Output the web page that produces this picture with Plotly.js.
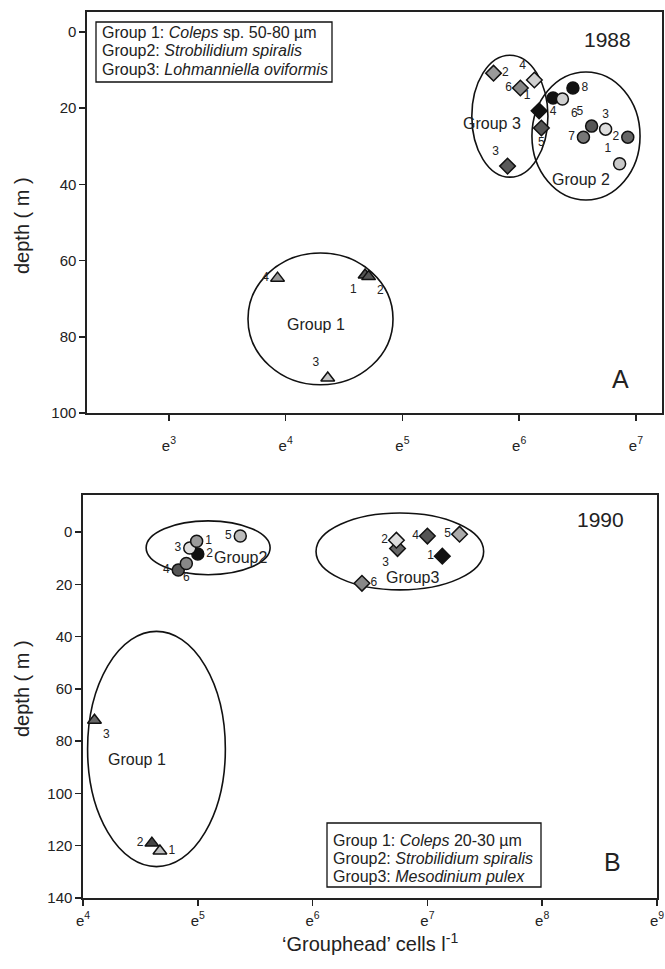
<!DOCTYPE html>
<html><head><meta charset="utf-8">
<script src="https://cdn.plot.ly/plotly-3.0.1.min.js"></script>
<style>html,body{margin:0;padding:0;background:#fff}#chart{width:665px;height:969px}</style>
</head><body><div id="chart"></div>
<script>
// ---------- DATA (x = natural log of cells per litre, y = depth in m) ----------
// 1988 (panel A)
const topTriId    = ['4', '1', '2', '3'];
const topTriLn    = [3.93, 4.68, 4.71, 4.36];
const topTriDepth = [64.6, 63.8, 64.2, 90.8];

const topDiaId    = ['2', '4', '6', '1', '5', '3'];
const topDiaLn    = [5.78, 6.13, 6.01, 6.17, 6.19, 5.90];
const topDiaDepth = [10.8, 12.6, 14.7, 20.7, 25.2, 35.2];

const topCirId    = ['4', '6', '8', '5', '3', '7', '2', '1'];
const topCirLn    = [6.29, 6.37, 6.46, 6.62, 6.74, 6.55, 6.93, 6.86];
const topCirDepth = [17.3, 17.6, 14.7, 24.7, 25.5, 27.6, 27.6, 34.6];

// 1990 (panel B)
const botTriId    = ['3', '2', '1'];
const botTriLn    = [4.10, 4.60, 4.67];
const botTriDepth = [72, 119, 122];

const botCirId    = ['4', '6', '2', '3', '1', '5'];
const botCirLn    = [4.83, 4.90, 5.00, 4.93, 4.99, 5.37];
const botCirDepth = [14.5, 12.0, 8.4, 6.1, 3.5, 1.5];

const botDiaId    = ['6', '3', '2', '4', '5', '1'];
const botDiaLn    = [6.43, 6.74, 6.73, 7.00, 7.28, 7.13];
const botDiaDepth = [19.6, 6.3, 3.1, 1.5, 0.8, 9.2];

// group ellipses: centre and half-extent (ln units, depth m)
const topEllCx   = [4.298, 5.92, 6.572];
const topEllRx   = [0.621, 0.326, 0.463];
const topEllCy   = [75.3, 22.1, 27.3];
const topEllRy   = [17.3, 16.0, 16.8];

const botEllCx   = [4.64, 5.09, 6.76];
const botEllRx   = [0.60, 0.54, 0.73];
const botEllCy   = [83.0, 6.0, 7.4];
const botEllRy   = [45.0, 10.3, 14.7];

// group names and where they are written
const topGroupName  = ['Group 1', 'Group 3', 'Group 2'];
const topGroupLn    = [4.26, 5.77, 6.53];
const topGroupDepth = [76.9, 23.9, 38.8];
const botGroupName  = ['Group 1', 'Group2', 'Group3'];
const botGroupLn    = [4.47, 5.37, 6.87];
const botGroupDepth = [87.0, 9.6, 17.3];

const topLegend = ['Group 1: <i>Coleps</i> sp. 50-80 \u00b5m', 'Group2: <i>Strobilidium spiralis</i>', 'Group3: <i>Lohmanniella oviformis</i>'];
const botLegend = ['Group 1: <i>Coleps</i> 20-30 \u00b5m', 'Group2: <i>Strobilidium spiralis</i>', 'Group3: <i>Mesodinium pulex</i>'];

const topXTicks = [3, 4, 5, 6, 7];
const botXTicks = [4, 5, 6, 7, 8, 9];
const topYTicks = [0, 20, 40, 60, 80, 100];
const botYTicks = [0, 20, 40, 60, 80, 100, 120, 140];

// ---------- STYLE ----------
const topTriColor = ['#9a9a9a', '#555555', '#555555', '#c4c4c4'];
const topTriPos   = ['middle left', 'bottom left', 'bottom right', 'top left'];
const topDiaColor = ['#9a9a9a', '#d0d0d0', '#888888', '#111111', '#555555', '#5a5a5a'];
const topDiaPos   = ['middle right', 'top left', 'middle left', 'top left', 'bottom center', 'top left'];
const topCirColor = ['#111111', '#cfcfcf', '#111111', '#555555', '#dddddd', '#777777', '#666666', '#c8c8c8'];
const topCirPos   = ['bottom center', 'bottom right', 'middle right', 'top left', 'top center', 'middle left', 'middle left', 'top left'];

const botTriColor = ['#666666', '#444444', '#bdbdbd'];
const botTriPos   = ['bottom right', 'middle left', 'middle right'];
const botCirColor = ['#555555', '#888888', '#111111', '#dddddd', '#9a9a9a', '#bbbbbb'];
const botCirPos   = ['middle left', 'bottom center', 'middle right', 'middle left', 'middle right', 'middle left'];
const botDiaColor = ['#888888', '#666666', '#dddddd', '#555555', '#aaaaaa', '#111111'];
const botDiaPos   = ['middle right', 'bottom left', 'middle left', 'middle left', 'middle left', 'middle left'];

const FONT = 'Liberation Sans, Arial, Helvetica, sans-serif';
const INK = '#222';
const W = 665, H = 969;
const px = v => v / W, py = v => 1 - v / H;

function pts(xa, ya, ids, ln, dep, sym, col, pos) {
  return {
    type: 'scatter', mode: 'markers+text', xaxis: xa, yaxis: ya,
    x: ln, y: dep, text: ids, textposition: pos,
    textfont: {family: FONT, size: 12, color: '#222222'},
    marker: {symbol: sym, size: 12, color: col, line: {color: '#111', width: 1.5}},
    hoverinfo: 'skip', showlegend: false, cliponaxis: false
  };
}

const data = [
  pts('x', 'y', topTriId, topTriLn, topTriDepth, 'triangle-up', topTriColor, topTriPos),
  pts('x', 'y', topDiaId, topDiaLn, topDiaDepth, 'diamond', topDiaColor, topDiaPos),
  pts('x', 'y', topCirId, topCirLn, topCirDepth, 'circle', topCirColor, topCirPos),
  pts('x2', 'y2', botTriId, botTriLn, botTriDepth, 'triangle-up', botTriColor, botTriPos),
  pts('x2', 'y2', botCirId, botCirLn, botCirDepth, 'circle', botCirColor, botCirPos),
  pts('x2', 'y2', botDiaId, botDiaLn, botDiaDepth, 'diamond', botDiaColor, botDiaPos)
];

const shapes = [];
function ell(xr, yr, cx, rx, cy, ry) {
  for (let i = 0; i < cx.length; i++) {
    shapes.push({type: 'circle', xref: xr, yref: yr,
      x0: cx[i] - rx[i], x1: cx[i] + rx[i], y0: cy[i] - ry[i], y1: cy[i] + ry[i],
      line: {color: '#111', width: 1.6}, fillcolor: 'rgba(0,0,0,0)', layer: 'below'});
  }
}
ell('x', 'y', topEllCx, topEllRx, topEllCy, topEllRy);
ell('x2', 'y2', botEllCx, botEllRx, botEllCy, botEllRy);
// legend frames
shapes.push({type: 'rect', xref: 'paper', yref: 'paper', x0: px(96), x1: px(332), y0: py(82), y1: py(22),
  line: {color: '#111', width: 1.3}, fillcolor: '#fff', layer: 'above'});
shapes.push({type: 'rect', xref: 'paper', yref: 'paper', x0: px(327), x1: px(541), y0: py(887), y1: py(823),
  line: {color: '#111', width: 1.3}, fillcolor: '#fff', layer: 'above'});

function axisX(dom, rng, ticks, anchor, standoff) {
  return {domain: dom, range: rng, anchor: anchor, tickvals: ticks,
    ticktext: ticks.map(t => 'e<sup>' + t + '</sup>'),
    ticks: 'outside', ticklen: 6, tickwidth: 1.5, tickcolor: INK,
    showline: true, linecolor: INK, linewidth: 1.6, mirror: true,
    showgrid: false, zeroline: false, fixedrange: true,
    ticklabelstandoff: standoff,
    tickfont: {family: FONT, size: 15, color: INK}};
}
function axisY(dom, rng, ticks, anchor) {
  return {domain: dom, range: rng, anchor: anchor, tickvals: ticks,
    ticks: 'outside', ticklen: 6, tickwidth: 1.5, tickcolor: INK,
    showline: true, linecolor: INK, linewidth: 1.6, mirror: true,
    showgrid: false, zeroline: false, fixedrange: true,
    tickfont: {family: FONT, size: 15, color: INK}};
}

const annotations = [];
function txt(x, y, text, size, extra) {
  annotations.push(Object.assign({xref: 'paper', yref: 'paper', x: x, y: y, text: text, showarrow: false,
    xanchor: 'center', yanchor: 'middle', font: {family: FONT, size: size, color: INK}}, extra || {}));
}
// legends
const topLegendY = [33, 51, 69];
const botLegendY = [840, 858, 876];
topLegend.forEach((t, i) => txt(px(100), py(topLegendY[i]), t, 16, {xanchor: 'left'}));
botLegend.forEach((t, i) => txt(px(331), py(botLegendY[i]), t, 16, {xanchor: 'left'}));
// years and panel letters
txt(px(607), py(39), '1988', 21);
txt(px(620), py(379), 'A', 25);
txt(px(600), py(519), '1990', 21);
txt(px(612), py(862), 'B', 25);
// group labels (data coordinates)
topGroupName.forEach((t, i) => annotations.push({xref: 'x', yref: 'y', x: topGroupLn[i], y: topGroupDepth[i], text: t,
  showarrow: false, xanchor: 'center', yanchor: 'middle', font: {family: FONT, size: 16, color: INK}}));
botGroupName.forEach((t, i) => annotations.push({xref: 'x2', yref: 'y2', x: botGroupLn[i], y: botGroupDepth[i], text: t,
  showarrow: false, xanchor: 'center', yanchor: 'middle', font: {family: FONT, size: 16, color: INK}}));
// axis titles
txt(px(22), py(225), 'depth ( m )', 20, {textangle: -90});
txt(px(22), py(688), 'depth ( m )', 20, {textangle: -90});
txt(px(370), py(942), '\u2018Grouphead\u2019 cells l<sup>-1</sup>', 20);

const layout = {
  width: W, height: H, margin: {l: 0, r: 0, t: 0, b: 0},
  paper_bgcolor: '#fff', plot_bgcolor: '#fff', showlegend: false,
  font: {family: FONT, color: INK},
  xaxis: axisX([px(87), px(662)], [2.298, 7.223], topXTicks, 'y', 12),
  yaxis: axisY([py(413), py(12)], [100, -5.25], topYTicks, 'x'),
  xaxis2: axisX([px(83), px(657)], [4, 9], botXTicks, 'y2', 2),
  yaxis2: axisY([py(898), py(495)], [140, -14.2], botYTicks, 'x2'),
  shapes: shapes, annotations: annotations
};

Plotly.newPlot('chart', data, layout, {staticPlot: true, displayModeBar: false});
</script></body></html>
